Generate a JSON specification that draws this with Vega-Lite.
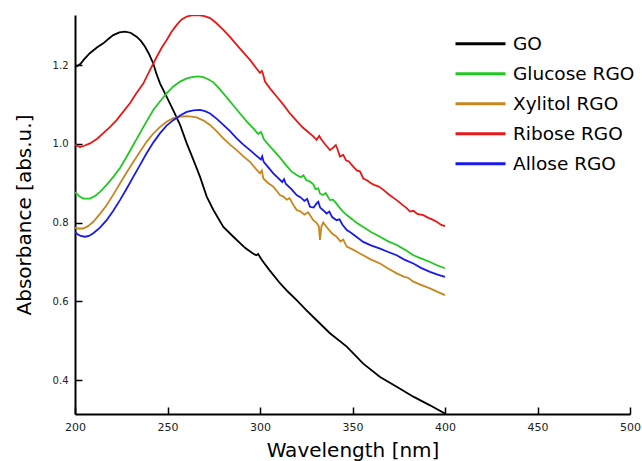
{
"$schema": "https://vega.github.io/schema/vega-lite/v6.json",
"width": 555, "height": 399,
"autosize": {"type": "none"},
"padding": {"left": 75, "top": 15, "right": 12, "bottom": 47},
"config": {"view": {"stroke": null}, "font": "DejaVu Sans"},
"data": {"values": [
{"s":"GO","x":200,"y":1.198},{"s":"GO","x":201,"y":1.197},{"s":"GO","x":203,"y":1.203},{"s":"GO","x":205,"y":1.215},{"s":"GO","x":208,"y":1.23},{"s":"GO","x":212,"y":1.245},{"s":"GO","x":215.3,"y":1.255},{"s":"GO","x":218,"y":1.266},{"s":"GO","x":220.7,"y":1.276},{"s":"GO","x":224,"y":1.283},{"s":"GO","x":227,"y":1.285},{"s":"GO","x":230,"y":1.282},{"s":"GO","x":233.3,"y":1.272},{"s":"GO","x":235.5,"y":1.262},{"s":"GO","x":237.8,"y":1.247},{"s":"GO","x":240,"y":1.228},{"s":"GO","x":242.3,"y":1.204},{"s":"GO","x":244,"y":1.178},{"s":"GO","x":246,"y":1.153},{"s":"GO","x":249.5,"y":1.12},{"s":"GO","x":253,"y":1.086},{"s":"GO","x":256.8,"y":1.048},{"s":"GO","x":260.4,"y":1.001},{"s":"GO","x":264,"y":0.959},{"s":"GO","x":267.6,"y":0.916},{"s":"GO","x":271.2,"y":0.866},{"s":"GO","x":274.8,"y":0.832},{"s":"GO","x":280.2,"y":0.789},{"s":"GO","x":285.6,"y":0.764},{"s":"GO","x":291.9,"y":0.736},{"s":"GO","x":296,"y":0.722},{"s":"GO","x":298,"y":0.717},{"s":"GO","x":299,"y":0.72},{"s":"GO","x":301,"y":0.705},{"s":"GO","x":305,"y":0.68},{"s":"GO","x":310.8,"y":0.646},{"s":"GO","x":315,"y":0.625},{"s":"GO","x":319.8,"y":0.603},{"s":"GO","x":325,"y":0.578},{"s":"GO","x":330.6,"y":0.552},{"s":"GO","x":337.8,"y":0.519},{"s":"GO","x":346.9,"y":0.485},{"s":"GO","x":355.8,"y":0.442},{"s":"GO","x":364.9,"y":0.408},{"s":"GO","x":373.9,"y":0.383},{"s":"GO","x":382.9,"y":0.358},{"s":"GO","x":391.9,"y":0.336},{"s":"GO","x":400,"y":0.315},
{"s":"Glucose RGO","x":200,"y":0.877},{"s":"Glucose RGO","x":201.2,"y":0.872},{"s":"Glucose RGO","x":202.5,"y":0.866},{"s":"Glucose RGO","x":204.5,"y":0.861},{"s":"Glucose RGO","x":208.1,"y":0.861},{"s":"Glucose RGO","x":211,"y":0.868},{"s":"Glucose RGO","x":213.5,"y":0.878},{"s":"Glucose RGO","x":217,"y":0.895},{"s":"Glucose RGO","x":220.7,"y":0.916},{"s":"Glucose RGO","x":224.5,"y":0.94},{"s":"Glucose RGO","x":227.9,"y":0.967},{"s":"Glucose RGO","x":231.5,"y":0.997},{"s":"Glucose RGO","x":235.1,"y":1.027},{"s":"Glucose RGO","x":238.7,"y":1.057},{"s":"Glucose RGO","x":242.3,"y":1.086},{"s":"Glucose RGO","x":246,"y":1.108},{"s":"Glucose RGO","x":249.5,"y":1.128},{"s":"Glucose RGO","x":253,"y":1.145},{"s":"Glucose RGO","x":256.8,"y":1.158},{"s":"Glucose RGO","x":260.4,"y":1.166},{"s":"Glucose RGO","x":263.9,"y":1.17},{"s":"Glucose RGO","x":266.5,"y":1.171},{"s":"Glucose RGO","x":269.4,"y":1.169},{"s":"Glucose RGO","x":272,"y":1.164},{"s":"Glucose RGO","x":274.8,"y":1.156},{"s":"Glucose RGO","x":278,"y":1.14},{"s":"Glucose RGO","x":282,"y":1.118},{"s":"Glucose RGO","x":285.5,"y":1.098},{"s":"Glucose RGO","x":289.2,"y":1.077},{"s":"Glucose RGO","x":292.8,"y":1.057},{"s":"Glucose RGO","x":296.4,"y":1.039},{"s":"Glucose RGO","x":299,"y":1.025},{"s":"Glucose RGO","x":300.5,"y":1.03},{"s":"Glucose RGO","x":301.3,"y":1.022},{"s":"Glucose RGO","x":302,"y":1.012},{"s":"Glucose RGO","x":304.5,"y":0.998},{"s":"Glucose RGO","x":307.2,"y":0.984},{"s":"Glucose RGO","x":310.8,"y":0.965},{"s":"Glucose RGO","x":314.4,"y":0.944},{"s":"Glucose RGO","x":317,"y":0.93},{"s":"Glucose RGO","x":319.8,"y":0.921},{"s":"Glucose RGO","x":322,"y":0.915},{"s":"Glucose RGO","x":323.5,"y":0.92},{"s":"Glucose RGO","x":325,"y":0.908},{"s":"Glucose RGO","x":327,"y":0.904},{"s":"Glucose RGO","x":328.8,"y":0.897},{"s":"Glucose RGO","x":330,"y":0.885},{"s":"Glucose RGO","x":331.5,"y":0.887},{"s":"Glucose RGO","x":332.4,"y":0.874},{"s":"Glucose RGO","x":334,"y":0.87},{"s":"Glucose RGO","x":335.5,"y":0.875},{"s":"Glucose RGO","x":337.8,"y":0.857},{"s":"Glucose RGO","x":339.5,"y":0.858},{"s":"Glucose RGO","x":341,"y":0.85},{"s":"Glucose RGO","x":343,"y":0.838},{"s":"Glucose RGO","x":345,"y":0.827},{"s":"Glucose RGO","x":346.9,"y":0.819},{"s":"Glucose RGO","x":350,"y":0.808},{"s":"Glucose RGO","x":352,"y":0.8},{"s":"Glucose RGO","x":355.8,"y":0.789},{"s":"Glucose RGO","x":360,"y":0.776},{"s":"Glucose RGO","x":364.9,"y":0.764},{"s":"Glucose RGO","x":369,"y":0.753},{"s":"Glucose RGO","x":373.9,"y":0.743},{"s":"Glucose RGO","x":378,"y":0.732},{"s":"Glucose RGO","x":382.9,"y":0.717},{"s":"Glucose RGO","x":387,"y":0.709},{"s":"Glucose RGO","x":391.9,"y":0.7},{"s":"Glucose RGO","x":396,"y":0.691},{"s":"Glucose RGO","x":400,"y":0.684},
{"s":"Xylitol RGO","x":200,"y":0.787},{"s":"Xylitol RGO","x":201.2,"y":0.785},{"s":"Xylitol RGO","x":204.5,"y":0.785},{"s":"Xylitol RGO","x":207,"y":0.791},{"s":"Xylitol RGO","x":209.9,"y":0.802},{"s":"Xylitol RGO","x":213.5,"y":0.822},{"s":"Xylitol RGO","x":217.1,"y":0.844},{"s":"Xylitol RGO","x":220.7,"y":0.871},{"s":"Xylitol RGO","x":224.3,"y":0.899},{"s":"Xylitol RGO","x":227.9,"y":0.927},{"s":"Xylitol RGO","x":231.5,"y":0.954},{"s":"Xylitol RGO","x":235.1,"y":0.98},{"s":"Xylitol RGO","x":238.7,"y":1.005},{"s":"Xylitol RGO","x":242.3,"y":1.026},{"s":"Xylitol RGO","x":246,"y":1.043},{"s":"Xylitol RGO","x":249.5,"y":1.056},{"s":"Xylitol RGO","x":253.1,"y":1.065},{"s":"Xylitol RGO","x":256.8,"y":1.069},{"s":"Xylitol RGO","x":260.4,"y":1.07},{"s":"Xylitol RGO","x":263,"y":1.069},{"s":"Xylitol RGO","x":265.8,"y":1.067},{"s":"Xylitol RGO","x":269.5,"y":1.059},{"s":"Xylitol RGO","x":273,"y":1.048},{"s":"Xylitol RGO","x":276.5,"y":1.032},{"s":"Xylitol RGO","x":280.2,"y":1.014},{"s":"Xylitol RGO","x":283.8,"y":0.998},{"s":"Xylitol RGO","x":287.4,"y":0.984},{"s":"Xylitol RGO","x":291,"y":0.968},{"s":"Xylitol RGO","x":294.6,"y":0.954},{"s":"Xylitol RGO","x":298,"y":0.935},{"s":"Xylitol RGO","x":300,"y":0.925},{"s":"Xylitol RGO","x":301,"y":0.932},{"s":"Xylitol RGO","x":301.8,"y":0.912},{"s":"Xylitol RGO","x":304.5,"y":0.9},{"s":"Xylitol RGO","x":307.2,"y":0.891},{"s":"Xylitol RGO","x":310.8,"y":0.87},{"s":"Xylitol RGO","x":312.6,"y":0.866},{"s":"Xylitol RGO","x":314.5,"y":0.858},{"s":"Xylitol RGO","x":316,"y":0.862},{"s":"Xylitol RGO","x":317.5,"y":0.849},{"s":"Xylitol RGO","x":319.8,"y":0.832},{"s":"Xylitol RGO","x":322,"y":0.828},{"s":"Xylitol RGO","x":324,"y":0.82},{"s":"Xylitol RGO","x":326,"y":0.826},{"s":"Xylitol RGO","x":328.8,"y":0.806},{"s":"Xylitol RGO","x":330.5,"y":0.8},{"s":"Xylitol RGO","x":331.8,"y":0.79},{"s":"Xylitol RGO","x":332.4,"y":0.756},{"s":"Xylitol RGO","x":333.2,"y":0.79},{"s":"Xylitol RGO","x":334.2,"y":0.8},{"s":"Xylitol RGO","x":335.5,"y":0.792},{"s":"Xylitol RGO","x":337.5,"y":0.78},{"s":"Xylitol RGO","x":339,"y":0.772},{"s":"Xylitol RGO","x":341.4,"y":0.764},{"s":"Xylitol RGO","x":343.5,"y":0.752},{"s":"Xylitol RGO","x":345,"y":0.757},{"s":"Xylitol RGO","x":346.9,"y":0.739},{"s":"Xylitol RGO","x":350,"y":0.732},{"s":"Xylitol RGO","x":353,"y":0.724},{"s":"Xylitol RGO","x":355.8,"y":0.717},{"s":"Xylitol RGO","x":360,"y":0.706},{"s":"Xylitol RGO","x":364.9,"y":0.696},{"s":"Xylitol RGO","x":369,"y":0.684},{"s":"Xylitol RGO","x":373.9,"y":0.671},{"s":"Xylitol RGO","x":378,"y":0.662},{"s":"Xylitol RGO","x":380,"y":0.66},{"s":"Xylitol RGO","x":382.9,"y":0.65},{"s":"Xylitol RGO","x":387,"y":0.642},{"s":"Xylitol RGO","x":391.9,"y":0.633},{"s":"Xylitol RGO","x":396,"y":0.624},{"s":"Xylitol RGO","x":400,"y":0.616},
{"s":"Ribose RGO","x":200,"y":0.998},{"s":"Ribose RGO","x":201.2,"y":0.995},{"s":"Ribose RGO","x":202.7,"y":0.992},{"s":"Ribose RGO","x":205,"y":0.995},{"s":"Ribose RGO","x":208.1,"y":1.001},{"s":"Ribose RGO","x":212,"y":1.013},{"s":"Ribose RGO","x":215.3,"y":1.027},{"s":"Ribose RGO","x":219,"y":1.043},{"s":"Ribose RGO","x":222.5,"y":1.06},{"s":"Ribose RGO","x":226,"y":1.081},{"s":"Ribose RGO","x":229.7,"y":1.103},{"s":"Ribose RGO","x":233,"y":1.127},{"s":"Ribose RGO","x":236.9,"y":1.153},{"s":"Ribose RGO","x":240.5,"y":1.187},{"s":"Ribose RGO","x":244.2,"y":1.221},{"s":"Ribose RGO","x":247,"y":1.245},{"s":"Ribose RGO","x":249.5,"y":1.263},{"s":"Ribose RGO","x":252,"y":1.283},{"s":"Ribose RGO","x":255,"y":1.302},{"s":"Ribose RGO","x":257.5,"y":1.315},{"s":"Ribose RGO","x":260.4,"y":1.323},{"s":"Ribose RGO","x":263,"y":1.326},{"s":"Ribose RGO","x":266.6,"y":1.327},{"s":"Ribose RGO","x":270,"y":1.324},{"s":"Ribose RGO","x":273,"y":1.319},{"s":"Ribose RGO","x":276.5,"y":1.306},{"s":"Ribose RGO","x":280.2,"y":1.289},{"s":"Ribose RGO","x":284,"y":1.27},{"s":"Ribose RGO","x":287.4,"y":1.251},{"s":"Ribose RGO","x":291,"y":1.232},{"s":"Ribose RGO","x":294.6,"y":1.213},{"s":"Ribose RGO","x":298,"y":1.192},{"s":"Ribose RGO","x":300,"y":1.18},{"s":"Ribose RGO","x":301,"y":1.185},{"s":"Ribose RGO","x":301.6,"y":1.178},{"s":"Ribose RGO","x":302.7,"y":1.158},{"s":"Ribose RGO","x":305.5,"y":1.14},{"s":"Ribose RGO","x":309,"y":1.12},{"s":"Ribose RGO","x":312.5,"y":1.1},{"s":"Ribose RGO","x":316.2,"y":1.077},{"s":"Ribose RGO","x":319.8,"y":1.058},{"s":"Ribose RGO","x":323,"y":1.042},{"s":"Ribose RGO","x":326,"y":1.03},{"s":"Ribose RGO","x":328.5,"y":1.02},{"s":"Ribose RGO","x":330.6,"y":1.01},{"s":"Ribose RGO","x":332,"y":1.02},{"s":"Ribose RGO","x":333,"y":1.012},{"s":"Ribose RGO","x":335,"y":1.0},{"s":"Ribose RGO","x":337.8,"y":0.984},{"s":"Ribose RGO","x":339.5,"y":0.99},{"s":"Ribose RGO","x":341,"y":0.997},{"s":"Ribose RGO","x":342,"y":0.985},{"s":"Ribose RGO","x":343.2,"y":0.968},{"s":"Ribose RGO","x":345,"y":0.972},{"s":"Ribose RGO","x":346.5,"y":0.958},{"s":"Ribose RGO","x":348,"y":0.955},{"s":"Ribose RGO","x":350.4,"y":0.942},{"s":"Ribose RGO","x":352.5,"y":0.932},{"s":"Ribose RGO","x":354,"y":0.93},{"s":"Ribose RGO","x":355.8,"y":0.912},{"s":"Ribose RGO","x":358,"y":0.907},{"s":"Ribose RGO","x":360,"y":0.9},{"s":"Ribose RGO","x":362,"y":0.895},{"s":"Ribose RGO","x":364,"y":0.892},{"s":"Ribose RGO","x":366.7,"y":0.883},{"s":"Ribose RGO","x":370,"y":0.87},{"s":"Ribose RGO","x":373.9,"y":0.857},{"s":"Ribose RGO","x":377,"y":0.845},{"s":"Ribose RGO","x":379,"y":0.838},{"s":"Ribose RGO","x":381.1,"y":0.828},{"s":"Ribose RGO","x":383,"y":0.83},{"s":"Ribose RGO","x":385,"y":0.822},{"s":"Ribose RGO","x":388.3,"y":0.819},{"s":"Ribose RGO","x":391,"y":0.812},{"s":"Ribose RGO","x":393,"y":0.808},{"s":"Ribose RGO","x":395.5,"y":0.802},{"s":"Ribose RGO","x":398,"y":0.794},{"s":"Ribose RGO","x":400,"y":0.791},
{"s":"Allose RGO","x":200,"y":0.776},{"s":"Allose RGO","x":201.2,"y":0.771},{"s":"Allose RGO","x":203,"y":0.766},{"s":"Allose RGO","x":205.4,"y":0.764},{"s":"Allose RGO","x":207.5,"y":0.766},{"s":"Allose RGO","x":209.9,"y":0.773},{"s":"Allose RGO","x":213.5,"y":0.787},{"s":"Allose RGO","x":217.1,"y":0.806},{"s":"Allose RGO","x":220.7,"y":0.83},{"s":"Allose RGO","x":224.3,"y":0.857},{"s":"Allose RGO","x":227.9,"y":0.886},{"s":"Allose RGO","x":231.5,"y":0.916},{"s":"Allose RGO","x":235.1,"y":0.946},{"s":"Allose RGO","x":238.7,"y":0.976},{"s":"Allose RGO","x":242.3,"y":1.003},{"s":"Allose RGO","x":246,"y":1.027},{"s":"Allose RGO","x":249.5,"y":1.046},{"s":"Allose RGO","x":253.1,"y":1.06},{"s":"Allose RGO","x":256.8,"y":1.072},{"s":"Allose RGO","x":260.4,"y":1.081},{"s":"Allose RGO","x":264,"y":1.085},{"s":"Allose RGO","x":267.6,"y":1.086},{"s":"Allose RGO","x":270.3,"y":1.083},{"s":"Allose RGO","x":273,"y":1.077},{"s":"Allose RGO","x":276.5,"y":1.064},{"s":"Allose RGO","x":280.2,"y":1.048},{"s":"Allose RGO","x":283.8,"y":1.032},{"s":"Allose RGO","x":287.4,"y":1.014},{"s":"Allose RGO","x":291,"y":0.998},{"s":"Allose RGO","x":294.6,"y":0.984},{"s":"Allose RGO","x":298,"y":0.97},{"s":"Allose RGO","x":300.5,"y":0.96},{"s":"Allose RGO","x":301.2,"y":0.968},{"s":"Allose RGO","x":302,"y":0.954},{"s":"Allose RGO","x":304.5,"y":0.94},{"s":"Allose RGO","x":307.2,"y":0.925},{"s":"Allose RGO","x":310,"y":0.912},{"s":"Allose RGO","x":312,"y":0.903},{"s":"Allose RGO","x":313,"y":0.91},{"s":"Allose RGO","x":314,"y":0.898},{"s":"Allose RGO","x":317,"y":0.885},{"s":"Allose RGO","x":319.8,"y":0.87},{"s":"Allose RGO","x":322,"y":0.864},{"s":"Allose RGO","x":324,"y":0.855},{"s":"Allose RGO","x":325.5,"y":0.86},{"s":"Allose RGO","x":327,"y":0.84},{"s":"Allose RGO","x":329,"y":0.838},{"s":"Allose RGO","x":330.5,"y":0.848},{"s":"Allose RGO","x":331.5,"y":0.853},{"s":"Allose RGO","x":332.5,"y":0.838},{"s":"Allose RGO","x":334,"y":0.832},{"s":"Allose RGO","x":336,"y":0.823},{"s":"Allose RGO","x":337.5,"y":0.828},{"s":"Allose RGO","x":339,"y":0.814},{"s":"Allose RGO","x":341.4,"y":0.806},{"s":"Allose RGO","x":343,"y":0.808},{"s":"Allose RGO","x":344.5,"y":0.795},{"s":"Allose RGO","x":346.9,"y":0.781},{"s":"Allose RGO","x":349,"y":0.775},{"s":"Allose RGO","x":351,"y":0.768},{"s":"Allose RGO","x":355.8,"y":0.751},{"s":"Allose RGO","x":360,"y":0.742},{"s":"Allose RGO","x":364.9,"y":0.734},{"s":"Allose RGO","x":369,"y":0.726},{"s":"Allose RGO","x":373.9,"y":0.717},{"s":"Allose RGO","x":378,"y":0.706},{"s":"Allose RGO","x":382.9,"y":0.696},{"s":"Allose RGO","x":387,"y":0.685},{"s":"Allose RGO","x":391.9,"y":0.675},{"s":"Allose RGO","x":396,"y":0.668},{"s":"Allose RGO","x":400,"y":0.662}
]},
"mark": {"type": "line", "strokeWidth": 1.8, "clip": true},
"encoding": {
"x": {"field": "x", "type": "quantitative",
"scale": {"domain": [200, 500], "nice": false, "zero": false},
"axis": {"title": "Wavelength [nm]", "values": [200,250,300,350,400,450,500],
"grid": true, "gridColor": "#000", "gridWidth": 1.5, "gridOpacity": 1, "gridDash": [0, 392, 7, 1000],
"domainColor": "#000", "domainWidth": 2, "ticks": false,
"labelFontSize": 11, "labelColor": "#222", "labelPadding": 7, "labelFlush": false,
"titleFontSize": 20, "titleFontWeight": "normal", "titleColor": "#000", "titlePadding": 8}},
"y": {"field": "y", "type": "quantitative",
"scale": {"domain": [0.314, 1.327], "nice": false, "zero": false},
"axis": {"title": "Absorbance [abs.u.]", "values": [0.4,0.6,0.8,1.0,1.2], "format": ".1f",
"grid": true, "gridColor": "#000", "gridWidth": 1.5, "gridOpacity": 1, "gridDash": [7, 1000],
"domainColor": "#000", "domainWidth": 2, "ticks": false,
"labelFontSize": 10, "labelColor": "#222", "labelPadding": 7,
"titleFontSize": 20, "titleFontWeight": "normal", "titleColor": "#000", "titlePadding": 18}},
"color": {"field": "s", "type": "nominal",
"scale": {"domain": ["GO","Glucose RGO","Xylitol RGO","Ribose RGO","Allose RGO"], "range": ["#000000","#22c822","#c8861e","#e81818","#1a1ae8"]},
"legend": {"title": null, "orient": "none", "legendX": 379, "legendY": 14, "padding": 0,
"symbolType": "stroke", "symbolSize": 2500, "symbolStrokeWidth": 3, "clipHeight": 29.5,
"labelFontSize": 18.5, "labelColor": "#000", "labelOffset": 6, "rowPadding": 0}}
}
}
